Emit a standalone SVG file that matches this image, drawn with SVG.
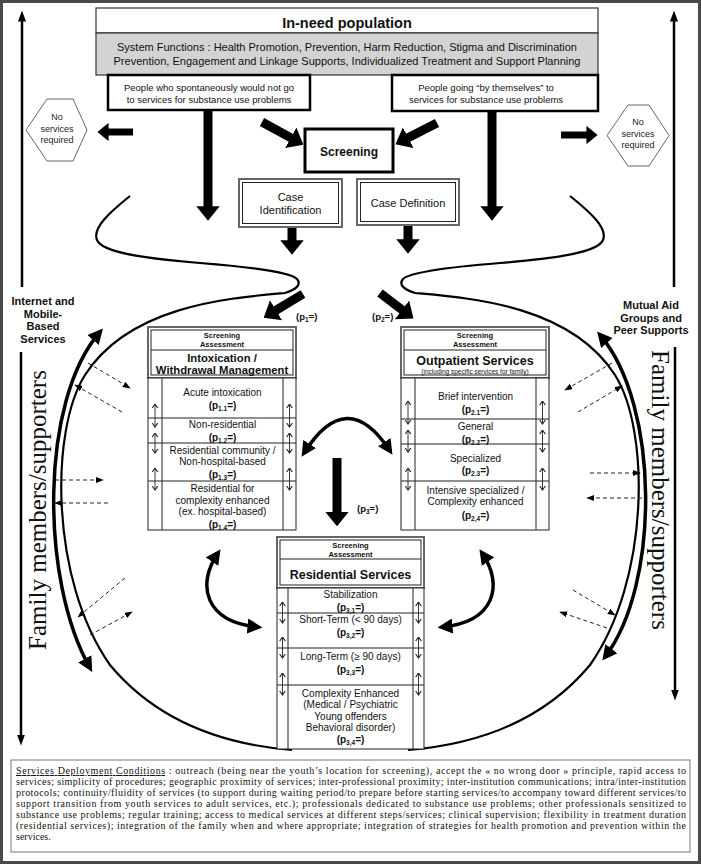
<svg xmlns="http://www.w3.org/2000/svg" width="701" height="864" viewBox="0 0 701 864">
<defs>
<style>
text{font-family:"Liberation Sans",Arial,sans-serif;fill:#111}
.c{text-anchor:middle}
.r10{font-size:10px;text-anchor:middle}
.p{font-size:10px;font-weight:bold;text-anchor:middle}
.b{font-weight:bold}
.sa{font-size:7.5px;font-weight:bold;text-anchor:middle}
.hd{font-size:11.3px;font-weight:bold;text-anchor:middle}
.hb{font-size:12.5px;font-weight:bold;text-anchor:middle}
.ppl{font-size:9.5px;text-anchor:middle}
.ns{font-size:9px;text-anchor:middle;fill:#222}
.side{font-size:11px;font-weight:bold;text-anchor:middle}
.fam{font-family:"Liberation Serif","Times New Roman",serif;font-size:25px;text-anchor:middle}
.cond{font-family:"Liberation Serif","Times New Roman",serif;font-size:10px}
.thick{stroke:#000;stroke-width:9;fill:none;marker-end:url(#big)}
.thin7{stroke:#000;stroke-width:7;fill:none;marker-end:url(#big)}
.cv{stroke:#000;stroke-width:3.5;fill:none;marker-start:url(#cva);marker-end:url(#cva)}
.env{stroke:#000;stroke-width:2.2;fill:none}
.vl{stroke:#000;stroke-width:2.5;fill:none;marker-end:url(#va)}
.dash{stroke:#222;stroke-width:1;stroke-dasharray:4 3;fill:none;marker-end:url(#sm)}
.ud{stroke:#222;stroke-width:0.9;fill:none;marker-start:url(#ch);marker-end:url(#ch)}
.tb{fill:#fff;stroke:#222;stroke-width:1}
.ln{stroke:#222;stroke-width:1;fill:none}
.dbo{fill:#fff;stroke:#666;stroke-width:2}
.dbi{fill:none;stroke:#222;stroke-width:1}
.hex{fill:#fff;stroke:#666;stroke-width:1}
</style>
<marker id="big" viewBox="0 0 6 10" refX="0.3" refY="5" markerWidth="1.6" markerHeight="2.6" orient="auto" markerUnits="strokeWidth" preserveAspectRatio="none"><path d="M0,0 L6,5 L0,10 z" fill="#000"/></marker>
<marker id="cva" viewBox="0 0 10 10" refX="7" refY="5" markerWidth="4.3" markerHeight="4.3" orient="auto-start-reverse" markerUnits="strokeWidth" preserveAspectRatio="none"><path d="M0,0 L10,5 L0,10 z" fill="#000"/></marker>
<marker id="va" viewBox="0 0 10 10" refX="5" refY="5" markerWidth="11" markerHeight="8" orient="auto" markerUnits="userSpaceOnUse" preserveAspectRatio="none"><path d="M0,0 L10,5 L0,10 z" fill="#000"/></marker>
<marker id="sm" viewBox="0 0 10 10" refX="9" refY="5" markerWidth="8" markerHeight="6" orient="auto" markerUnits="userSpaceOnUse" preserveAspectRatio="none"><path d="M0,0 L10,5 L0,10 z" fill="#000"/></marker>
<marker id="ch" viewBox="0 0 10 10" refX="9" refY="5" markerWidth="5" markerHeight="7" orient="auto-start-reverse" markerUnits="userSpaceOnUse" preserveAspectRatio="none"><path d="M1,1 L9,5 L1,9" fill="none" stroke="#222" stroke-width="1.6"/></marker>
</defs>
<rect x="0" y="0" width="701" height="864" fill="#fff"/>
<rect x="1.5" y="1.5" width="698" height="861" fill="none" stroke="#4a4a4a" stroke-width="3"/>

<g id="connectors">
  <path class="env" d="M130,196 C110,212 92,228 97,240 C102,252 140,258 200,263 C250,267 290,272 297,279 C302,285 295,290 285,293 C230,298 130,305 85,375 C50,430 50,580 110,665 C160,725 230,745 292,750"/>
  <path class="env" d="M570,196 C590,212 608,228 603,240 C598,252 560,258 500,263 C450,267 410,272 403,279 C398,285 405,290 415,293 C470,298 570,305 615,375 C650,430 650,580 590,665 C540,725 470,745 408,750"/>
  <path class="thick" d="M208,110 V207"/>
  <path class="thick" d="M492,111 V207"/>
  <path class="thick" d="M262,122 L291.4,138.1"/>
  <path class="thick" d="M437,123 L407.6,138.1"/>
  <path class="thick" d="M292,227 V241"/>
  <path class="thick" d="M408,225 V240"/>
  <path class="thin7" d="M133,132 H108"/>
  <path class="thin7" d="M561,135 H587"/>
  <path class="thick" d="M303,294 L275.4,310.6"/>
  <path class="thick" d="M380,293 L402.6,310.3"/>
  <path class="thick" d="M337,458 V512.6"/>
  <path class="cv" d="M304,453 Q347,385 390,451"/>
  <path class="cv" d="M218,553 C196,585 205,622 258,627"/>
  <path class="cv" d="M482,553 C504,585 495,622 442,627"/>
  <path class="cv" d="M100,332 C40,400 40,580 90,668"/>
  <path class="cv" d="M600,335 C660,405 660,585 605,657"/>
  <path class="vl" d="M22,287 V16"/>
  <path class="vl" d="M674,287 V16"/>
  <path class="vl" d="M21,352 V740"/>
  <path class="vl" d="M675,347 V695"/>
  <path class="dash" d="M88,363 L130,388"/>
  <path class="dash" d="M122,412 L75,385"/>
  <path class="dash" d="M55,480 L103,480"/>
  <path class="dash" d="M108,503 L55,503"/>
  <path class="dash" d="M125,578 L78,617"/>
  <path class="dash" d="M90,635 L132,612"/>
  <path class="dash" d="M612,363 L565,390"/>
  <path class="dash" d="M578,412 L622,386"/>
  <path class="dash" d="M590,473 L640,473"/>
  <path class="dash" d="M642,498 L587,498"/>
  <path class="dash" d="M573,590 L615,615"/>
  <path class="dash" d="M607,628 L560,612"/>
</g>

<g id="in-need-population">
  <rect x="96" y="8" width="502" height="25" fill="#fff" stroke="#333" stroke-width="1.2"/>
  <rect x="96" y="33" width="502" height="42" fill="#d3d3d3" stroke="#333" stroke-width="1.2"/>
  <text x="347" y="28" class="c b" font-size="14.5">In-need population</text>
  <text x="347" y="51" class="c" font-size="10.5" textLength="460" lengthAdjust="spacingAndGlyphs">System Functions : Health Promotion, Prevention, Harm Reduction, Stigma and Discrimination</text>
  <text x="347" y="65" class="c" font-size="10.5" textLength="467" lengthAdjust="spacingAndGlyphs">Prevention, Engagement and Linkage Supports, Individualized Treatment and Support Planning</text>
</g>

<g id="people-not-going">
  <rect x="108" y="75" width="202" height="35" fill="#fff" stroke="#000" stroke-width="2.5"/>
  <text x="209" y="91" class="ppl">People who spontaneously would not go</text>
  <text x="209" y="102.5" class="ppl">to services for substance use problems</text>
</g>

<g id="people-going">
  <rect x="392" y="75" width="206" height="36" fill="#fff" stroke="#000" stroke-width="2.5"/>
  <text x="486" y="91" class="ppl">People going “by themselves” to</text>
  <text x="486" y="102.5" class="ppl">services for substance use problems</text>
</g>

<g id="no-services-left">
  <polygon class="hex" points="26,130 47,99 73,99 87,130 73,161 47,161"/>
  <text x="57" y="120" class="ns">No</text>
  <text x="57" y="131.5" class="ns">services</text>
  <text x="57" y="143" class="ns">required</text>
</g>

<g id="no-services-right">
  <polygon class="hex" points="607,135.5 628,105 649,105 669,135.5 649,166 628,166"/>
  <text x="638" y="125" class="ns">No</text>
  <text x="638" y="136.5" class="ns">services</text>
  <text x="638" y="148" class="ns">required</text>
</g>

<g id="screening">
  <rect x="305" y="129" width="88" height="43" fill="#fff" stroke="#000" stroke-width="3"/>
  <text x="349" y="156" class="c b" font-size="12">Screening</text>
</g>

<g id="case-identification">
  <rect x="239" y="179" width="103" height="48" class="dbo"/>
  <rect x="242.5" y="182.5" width="96" height="41" class="dbi"/>
  <text x="290.5" y="201" class="c" font-size="11">Case</text>
  <text x="290.5" y="213.5" class="c" font-size="11">Identification</text>
</g>

<g id="case-definition">
  <rect x="357" y="179" width="102" height="46" class="dbo"/>
  <rect x="360.5" y="182.5" width="95" height="39" class="dbi"/>
  <text x="408" y="206.5" class="c" font-size="11">Case Definition</text>
</g>

<g id="internet-label">
  <text x="43" y="305" class="side">Internet and</text>
  <text x="43" y="317.5" class="side">Mobile-</text>
  <text x="43" y="330" class="side">Based</text>
  <text x="43" y="342.5" class="side">Services</text>
</g>

<g id="mutual-aid-label">
  <text x="651" y="309" class="side">Mutual Aid</text>
  <text x="651" y="321.5" class="side">Groups and</text>
  <text x="651" y="334" class="side">Peer Supports</text>
</g>

<g id="family-left">
  <text class="fam" transform="translate(46,510) rotate(-90)">Family members/supporters</text>
</g>
<g id="family-right">
  <text class="fam" transform="translate(652,490) rotate(90)">Family members/supporters</text>
</g>

<g id="p-labels">
  <text x="296" y="320" class="b" font-size="9.5">(p<tspan font-size="6.5" dy="2">1</tspan><tspan dy="-2">=)</tspan></text>
  <text x="372" y="320" class="b" font-size="9.5">(p<tspan font-size="6.5" dy="2">2</tspan><tspan dy="-2">=)</tspan></text>
  <text x="357" y="512" class="b" font-size="9.5">(p<tspan font-size="6.5" dy="2">3</tspan><tspan dy="-2">=)</tspan></text>
</g>

<g id="intoxication-withdrawal">
  <rect x="148" y="327" width="148" height="51" class="dbo"/>
  <rect x="151" y="330" width="142" height="45" class="dbi"/>
  <line class="ln" x1="151" y1="350" x2="293" y2="350"/>
  <text x="222" y="338" class="sa">Screening</text>
  <text x="222" y="347" class="sa">Assessment</text>
  <text x="222" y="362" class="hd">Intoxication /</text>
  <text x="222" y="374" class="hd">Withdrawal Management</text>
  <rect x="148" y="378" width="148" height="152" class="tb"/>
  <path class="ln" d="M162,378 V530 M283,378 V530 M148,418 H296 M148,443 H296 M148,481 H296"/>
  <path class="ud" d="M155,404 V427"/>
  <path class="ud" d="M155,433 V453"/>
  <path class="ud" d="M155,468 V490"/>
  <path class="ud" d="M289.5,404 V427"/>
  <path class="ud" d="M289.5,433 V453"/>
  <path class="ud" d="M289.5,468 V490"/>
  <text x="222.5" y="395.5" class="r10">Acute intoxication</text>
  <text x="222.5" y="408.5" class="p">(p<tspan font-size="6.5" dy="2">1.1</tspan><tspan dy="-2">=)</tspan></text>
  <text x="222.5" y="427.5" class="r10">Non-residential</text>
  <text x="222.5" y="440.5" class="p">(p<tspan font-size="6.5" dy="2">1.2</tspan><tspan dy="-2">=)</tspan></text>
  <text x="222.5" y="453.5" class="r10">Residential community /</text>
  <text x="222.5" y="465" class="r10">Non-hospital-based</text>
  <text x="222.5" y="477.5" class="p">(p<tspan font-size="6.5" dy="2">1.3</tspan><tspan dy="-2">=)</tspan></text>
  <text x="222.5" y="491.5" class="r10">Residential for</text>
  <text x="222.5" y="503.5" class="r10">complexity enhanced</text>
  <text x="222.5" y="515" class="r10">(ex. hospital-based)</text>
  <text x="222.5" y="527.5" class="p">(p<tspan font-size="6.5" dy="2">1.4</tspan><tspan dy="-2">=)</tspan></text>
</g>

<g id="outpatient-services">
  <rect x="401" y="327" width="148" height="51" class="dbo"/>
  <rect x="404" y="330" width="142" height="45" class="dbi"/>
  <line class="ln" x1="404" y1="350" x2="546" y2="350"/>
  <text x="475" y="338" class="sa">Screening</text>
  <text x="475" y="347" class="sa">Assessment</text>
  <text x="475" y="364.5" class="hb">Outpatient Services</text>
  <text x="475" y="373.5" class="c" font-size="6.5">(including specific services for family)</text>
  <rect x="401" y="378" width="148" height="152" class="tb"/>
  <path class="ln" d="M415,378 V530 M536,378 V530 M401,419 H549 M401,444 H549 M401,481 H549"/>
  <path class="ud" d="M408,401 V424"/>
  <path class="ud" d="M408,430 V452"/>
  <path class="ud" d="M408,468 V490"/>
  <path class="ud" d="M542.5,401 V424"/>
  <path class="ud" d="M542.5,430 V452"/>
  <path class="ud" d="M542.5,468 V490"/>
  <text x="475.5" y="399.5" class="r10">Brief intervention</text>
  <text x="475.5" y="412.5" class="p">(p<tspan font-size="6.5" dy="2">2.1</tspan><tspan dy="-2">=)</tspan></text>
  <text x="475.5" y="429.5" class="r10">General</text>
  <text x="475.5" y="443" class="p">(p<tspan font-size="6.5" dy="2">2.2</tspan><tspan dy="-2">=)</tspan></text>
  <text x="475.5" y="461.5" class="r10">Specialized</text>
  <text x="475.5" y="473.5" class="p">(p<tspan font-size="6.5" dy="2">2.3</tspan><tspan dy="-2">=)</tspan></text>
  <text x="475.5" y="493.5" class="r10">Intensive specialized /</text>
  <text x="475.5" y="505" class="r10">Complexity enhanced</text>
  <text x="475.5" y="518.5" class="p">(p<tspan font-size="6.5" dy="2">2,4</tspan><tspan dy="-2">=)</tspan></text>
</g>

<g id="residential-services">
  <rect x="277" y="537" width="147" height="51" class="dbo"/>
  <rect x="280" y="540" width="141" height="45" class="dbi"/>
  <line class="ln" x1="280" y1="559" x2="421" y2="559"/>
  <text x="350.5" y="547.5" class="sa">Screening</text>
  <text x="350.5" y="556.5" class="sa">Assessment</text>
  <text x="350.5" y="578.5" class="hb">Residential Services</text>
  <rect x="277" y="588" width="147" height="161" class="tb"/>
  <path class="ln" d="M288,588 V749 M413,588 V749 M277,613 H424 M277,648 H424 M277,685 H424"/>
  <path class="ud" d="M282.5,602 V623"/>
  <path class="ud" d="M282.5,637 V658"/>
  <path class="ud" d="M282.5,673 V695"/>
  <path class="ud" d="M418.5,602 V623"/>
  <path class="ud" d="M418.5,637 V658"/>
  <path class="ud" d="M418.5,673 V695"/>
  <text x="350.5" y="597.5" class="r10">Stabilization</text>
  <text x="350.5" y="610.5" class="p">(p<tspan font-size="6.5" dy="2">3,1</tspan><tspan dy="-2">=)</tspan></text>
  <text x="350.5" y="622.5" class="r10">Short-Term (&lt; 90 days)</text>
  <text x="350.5" y="635.5" class="p">(p<tspan font-size="6.5" dy="2">3,2</tspan><tspan dy="-2">=)</tspan></text>
  <text x="350.5" y="659.5" class="r10">Long-Term (≥ 90 days)</text>
  <text x="350.5" y="672.5" class="p">(p<tspan font-size="6.5" dy="2">3,3</tspan><tspan dy="-2">=)</tspan></text>
  <text x="350.5" y="696.5" class="r10">Complexity Enhanced</text>
  <text x="350.5" y="707.5" class="r10">(Medical / Psychiatric</text>
  <text x="350.5" y="719.5" class="r10">Young offenders</text>
  <text x="350.5" y="730.5" class="r10">Behavioral disorder)</text>
  <text x="350.5" y="742.5" class="p">(p<tspan font-size="6.5" dy="2">3,4</tspan><tspan dy="-2">=)</tspan></text>
</g>

<g id="deployment-conditions">
  <rect x="11" y="760" width="679" height="92" fill="#fff" stroke="#777" stroke-width="1"/>
  <text x="16" y="774" class="cond" textLength="670" lengthAdjust="spacing"><tspan text-decoration="underline">Services Deployment Conditions</tspan> : outreach (being near the youth’s location  for screening), accept the « no wrong door » principle, rapid access to</text>
  <text x="16" y="785" class="cond" textLength="670" lengthAdjust="spacing">services; simplicity of procedures; geographic proximity of services; inter-professional proximity; inter-institution communications; intra/inter-institution</text>
  <text x="16" y="796" class="cond" textLength="670" lengthAdjust="spacing">protocols; continuity/fluidity of services (to support during waiting period/to prepare before starting services/to accompany toward different services/to</text>
  <text x="16" y="807" class="cond" textLength="670" lengthAdjust="spacing">support transition from youth services to adult services, etc.); professionals dedicated to substance use problems; other professionals sensitized to</text>
  <text x="16" y="818" class="cond" textLength="670" lengthAdjust="spacing">substance use problems; regular training; access to medical services at different steps/services; clinical supervision; flexibility in treatment duration</text>
  <text x="16" y="829" class="cond" textLength="670" lengthAdjust="spacing">(residential services); integration of the family when and where appropriate; integration of  strategies for health promotion and prevention within the</text>
  <text x="16" y="840" class="cond">services.</text>
</g>
</svg>
